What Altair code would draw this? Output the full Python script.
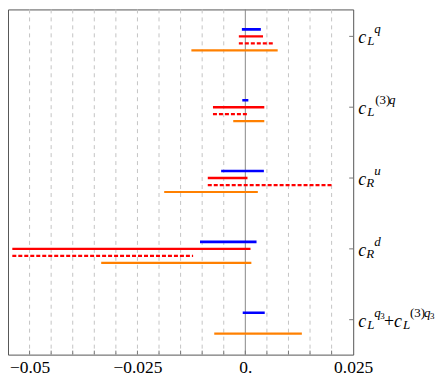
import altair as alt
import pandas as pd

# ---- data ----
groups = ["g1", "g2", "g3", "g4", "g5"]
series_order = ["blue", "red", "reddash", "orange"]

blue_lo = [-0.0008, -0.0007, -0.0056, -0.0105, -0.0006]
blue_hi = [0.0036, 0.0007, 0.0043, 0.0026, 0.0045]
red_lo = [-0.0015, -0.0075, -0.0087, -0.0540, None]
red_hi = [0.0041, 0.0044, 0.0005, 0.0012, None]
reddash_lo = [-0.0015, -0.0075, -0.0087, -0.0540, None]
reddash_hi = [0.0067, 0.0007, 0.0200, -0.0121, None]
orange_lo = [-0.0125, -0.0028, -0.0188, -0.0334, -0.0072]
orange_hi = [0.0075, 0.0044, 0.0029, 0.0014, 0.0131]

grid_values = [-0.05, -0.045, -0.04, -0.035, -0.03, -0.025, -0.02, -0.015,
               -0.01, -0.005, 0.005, 0.01, 0.015, 0.02]
tick_values = [-0.05, -0.045, -0.04, -0.035, -0.03, -0.025, -0.02, -0.015,
               -0.01, -0.005, 0.0, 0.005, 0.01, 0.015, 0.02]
label_values = [-0.05, -0.025, 0.0, 0.025]

# label pieces: (group, text, role)
label_pieces = [
    ("g1", "c", "main"), ("g1", "L", "sub"), ("g1", "q", "sup"),
    ("g2", "c", "main"), ("g2", "L", "sub"), ("g2", "(3)", "supU"), ("g2", "q", "sup"),
    ("g3", "c", "main"), ("g3", "R", "sub"), ("g3", "u", "sup"),
    ("g4", "c", "main"), ("g4", "R", "sub"), ("g4", "d", "sup"),
    ("g5", "c", "main"), ("g5", "L", "sub"), ("g5", "q", "sup"), ("g5", "3", "supsub"),
    ("g5", "+", "mainU"), ("g5", "c", "main"), ("g5", "L", "sub"),
    ("g5", "(3)", "supU"), ("g5", "q", "sup"), ("g5", "3", "supsub"),
]
# layout: horizontal offsets (px from right frame) of each piece, same order
piece_dx = [5, 14, 21,
            5, 14, 22, 36,
            5, 13, 21,
            5, 13, 21,
            5, 14, 21, 27, 31, 41, 50, 57, 71, 77]

# ---- layout / style ----
W, H = 346, 346
colors = {"blue": "#0000ff", "red": "#ff0000", "reddash": "#ff0000", "orange": "#ff8000"}
widths = {"blue": 2.6, "red": 2.1, "reddash": 2.1, "orange": 2.1}
dashes = {"blue": [1, 0], "red": [1, 0], "reddash": [4, 2], "orange": [1, 0]}
role_style = {
    "main": (18, 7, "italic"),
    "mainU": (18, 7, "normal"),
    "sub": (13, 9, "italic"),
    "sup": (13, -3, "italic"),
    "supU": (13, -3, "normal"),
    "supsub": (9, -1, "normal"),
}
FONT = "Liberation Serif"

rows = []
for s, lo, hi in [("blue", blue_lo, blue_hi), ("red", red_lo, red_hi),
                  ("reddash", reddash_lo, reddash_hi), ("orange", orange_lo, orange_hi)]:
    for g, a, b in zip(groups, lo, hi):
        if a is None:
            continue
        rows.append({"group": g, "series": s, "lo": a, "hi": b})
df = pd.DataFrame(rows)

xscale = alt.Scale(domain=[-0.055, 0.025], nice=False, zero=False)
yscale = alt.Scale(domain=groups, paddingInner=0, paddingOuter=0, range=[-8.5, 346.5])

label_expr = ("datum.value == 0 ? '0.' : (datum.value < 0 ? '\u2212' + format(-datum.value, '') "
              ": format(datum.value, ''))")

grid = alt.Chart(pd.DataFrame({"v": grid_values})).mark_rule(
    color="#c4c4c4", strokeWidth=1, strokeDash=[4, 4]
).encode(
    x=alt.X("v:Q", scale=xscale,
            axis=alt.Axis(values=label_values, labelExpr=label_expr, ticks=False, domain=False,
                          grid=False, labelFont=FONT, labelFontSize=17.5, labelColor="black",
                          labelPadding=4, labelFlush=False, labelOverlap=False, title=None))
)

zero = alt.Chart(pd.DataFrame({"v": [0.0]})).mark_rule(color="#888888", strokeWidth=1).encode(
    x=alt.X("v:Q", scale=xscale)
)

xticks = alt.Chart(pd.DataFrame({"v": tick_values})).mark_rule(color="#777777", strokeWidth=1).encode(
    x=alt.X("v:Q", scale=xscale), y=alt.value(H - 4), y2=alt.value(H)
)

yticks = alt.Chart(pd.DataFrame({"group": groups})).mark_rule(color="#777777", strokeWidth=1).encode(
    y=alt.Y("group:N", scale=yscale, axis=None), x=alt.value(W - 4), x2=alt.value(W)
)

bars = alt.Chart(df).mark_rule().encode(
    x=alt.X("lo:Q", scale=xscale),
    x2="hi:Q",
    y=alt.Y("group:N", scale=yscale, axis=None),
    yOffset=alt.YOffset("series:N", scale=alt.Scale(type="point", domain=series_order,
                                                     range=[28.5, 49.5], padding=0)),
    color=alt.Color("series:N", scale=alt.Scale(domain=series_order,
                                                range=[colors[s] for s in series_order]), legend=None),
    strokeWidth=alt.StrokeWidth("series:N", scale=alt.Scale(domain=series_order,
                                                            range=[widths[s] for s in series_order]),
                                legend=None),
    strokeDash=alt.StrokeDash("series:N", scale=alt.Scale(domain=series_order,
                                                          range=[dashes[s] for s in series_order]),
                              legend=None),
)

texts = []
for (g, t, role), dx in zip(label_pieces, piece_dx):
    size, dy, style = role_style[role]
    texts.append(
        alt.Chart(pd.DataFrame({"group": [g]})).mark_text(
            align="left", baseline="alphabetic", font=FONT, fontSize=size, fontStyle=style,
            dy=dy, color="black", text=t
        ).encode(
            y=alt.Y("group:N", scale=yscale, axis=None),
            x=alt.value(W + dx),
        )
    )

chart = alt.layer(grid, zero, bars, xticks, yticks, *texts).properties(
    width=W, height=H, padding=0
).configure_view(stroke="#555555", strokeWidth=1)

chart.save("out.html", embed_options={"renderer": "svg", "actions": False})
